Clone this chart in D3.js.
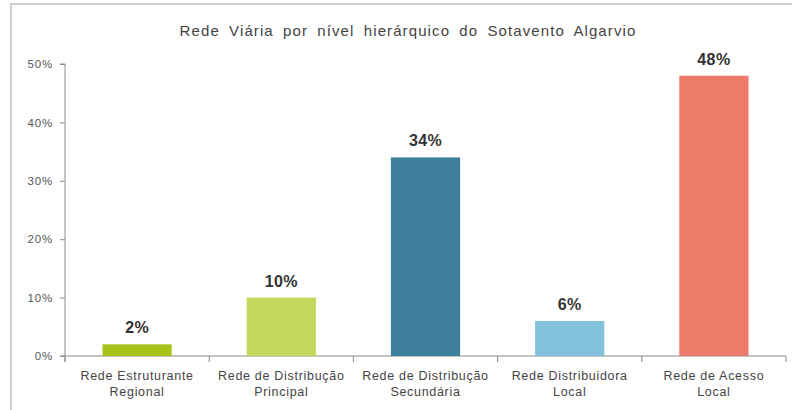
<!DOCTYPE html>
<html>
<head>
<meta charset="utf-8">
<script src="https://d3js.org/d3.v7.min.js"></script>
<style>
    body { margin: 0; background: #fff; }
    svg { font-family: "Liberation Sans", Arial, sans-serif; }
</style>
</head>
<body>
<svg width="792" height="410"></svg>
<script>
const categories = [
    ["Rede Estruturante", "Regional"],
    ["Rede de Distribução", "Principal"],
    ["Rede de Distribução", "Secundária"],
    ["Rede Distribuidora", "Local"],
    ["Rede de Acesso", "Local"]
];
const values = [2, 10, 34, 6, 48];
const colors = ["#a6c31a", "#c4d75a", "#3d7f9b", "#82c2dc", "#ee7b6a"];
const yTicks = [0, 10, 20, 30, 40, 50];
const title = "Rede Viária por nível hierárquico do Sotavento Algarvio";

const svg = d3.select("svg"),
      margin = {top: 64, right: 6, bottom: 54, left: 65},
      width = +svg.attr("width") - margin.left - margin.right,
      height = +svg.attr("height") - margin.top - margin.bottom;

// frame of the chart area (runs off the right and bottom edge)
svg.append("rect")
    .attr("x", 11).attr("y", 4)
    .attr("width", 800).attr("height", 420)
    .attr("fill", "none")
    .attr("stroke", "#cfcfcf")
    .attr("stroke-width", 2);

svg.append("text")
    .attr("x", 408).attr("y", 36)
    .attr("text-anchor", "middle")
    .attr("font-size", 15)
    .attr("letter-spacing", 1.1)
    .attr("word-spacing", 4)
    .attr("fill", "#444")
    .text(title);

const g = svg.append("g").attr("transform", "translate(" + margin.left + "," + margin.top + ")");

const x = d3.scaleBand().domain(d3.range(values.length)).range([0, width]).paddingInner(0.52).paddingOuter(0.26);
const y = d3.scaleLinear().domain([0, 50]).range([height, 0]);

// y axis
const yAxis = g.append("g")
    .call(d3.axisLeft(y).tickValues(yTicks).tickSize(5).tickFormat(d => d + "%"));
yAxis.select(".domain").attr("stroke", "#8a8a8a").attr("d", "M0," + (height + 6) + "V0H-5");
yAxis.selectAll(".tick line").attr("stroke", "#8a8a8a");
yAxis.selectAll(".tick text").attr("fill", "#555").attr("font-size", 11.5)
    .attr("letter-spacing", 0.8).attr("x", -12);

// x axis with ticks at category boundaries
const xAxis = g.append("g").attr("transform", "translate(0," + height + ")");
xAxis.append("line")
    .attr("x1", -5).attr("x2", width)
    .attr("stroke", "#8a8a8a");
xAxis.selectAll(".bound")
    .data(d3.range(values.length + 1))
    .join("line")
    .attr("class", "bound")
    .attr("x1", d => d * width / values.length).attr("x2", d => d * width / values.length)
    .attr("y1", 0).attr("y2", 6)
    .attr("stroke", "#8a8a8a");

const labels = xAxis.selectAll(".cat")
    .data(categories)
    .join("text")
    .attr("class", "cat")
    .attr("text-anchor", "middle")
    .attr("font-size", 12.5)
    .attr("letter-spacing", 0.7)
    .attr("fill", "#444")
    .attr("x", (d, i) => x(i) + x.bandwidth() / 2)
    .attr("y", 24);
labels.selectAll("tspan")
    .data(d => d)
    .join("tspan")
    .attr("x", function() { return d3.select(this.parentNode).attr("x"); })
    .attr("dy", (d, i) => i === 0 ? 0 : 16)
    .text(d => d);

// bars
g.selectAll(".bar")
    .data(values)
    .join("rect")
    .attr("class", "bar")
    .attr("x", (d, i) => x(i))
    .attr("width", x.bandwidth())
    .attr("y", d => y(d))
    .attr("height", d => height - y(d))
    .attr("fill", (d, i) => colors[i]);

// value labels
g.selectAll(".val")
    .data(values)
    .join("text")
    .attr("class", "val")
    .attr("text-anchor", "middle")
    .attr("font-size", 16)
    .attr("font-weight", "bold")
    .attr("letter-spacing", 0.4)
    .attr("fill", "#333")
    .attr("x", (d, i) => x(i) + x.bandwidth() / 2)
    .attr("y", d => y(d) - 11)
    .text(d => d + "%");
</script>
</body>
</html>
